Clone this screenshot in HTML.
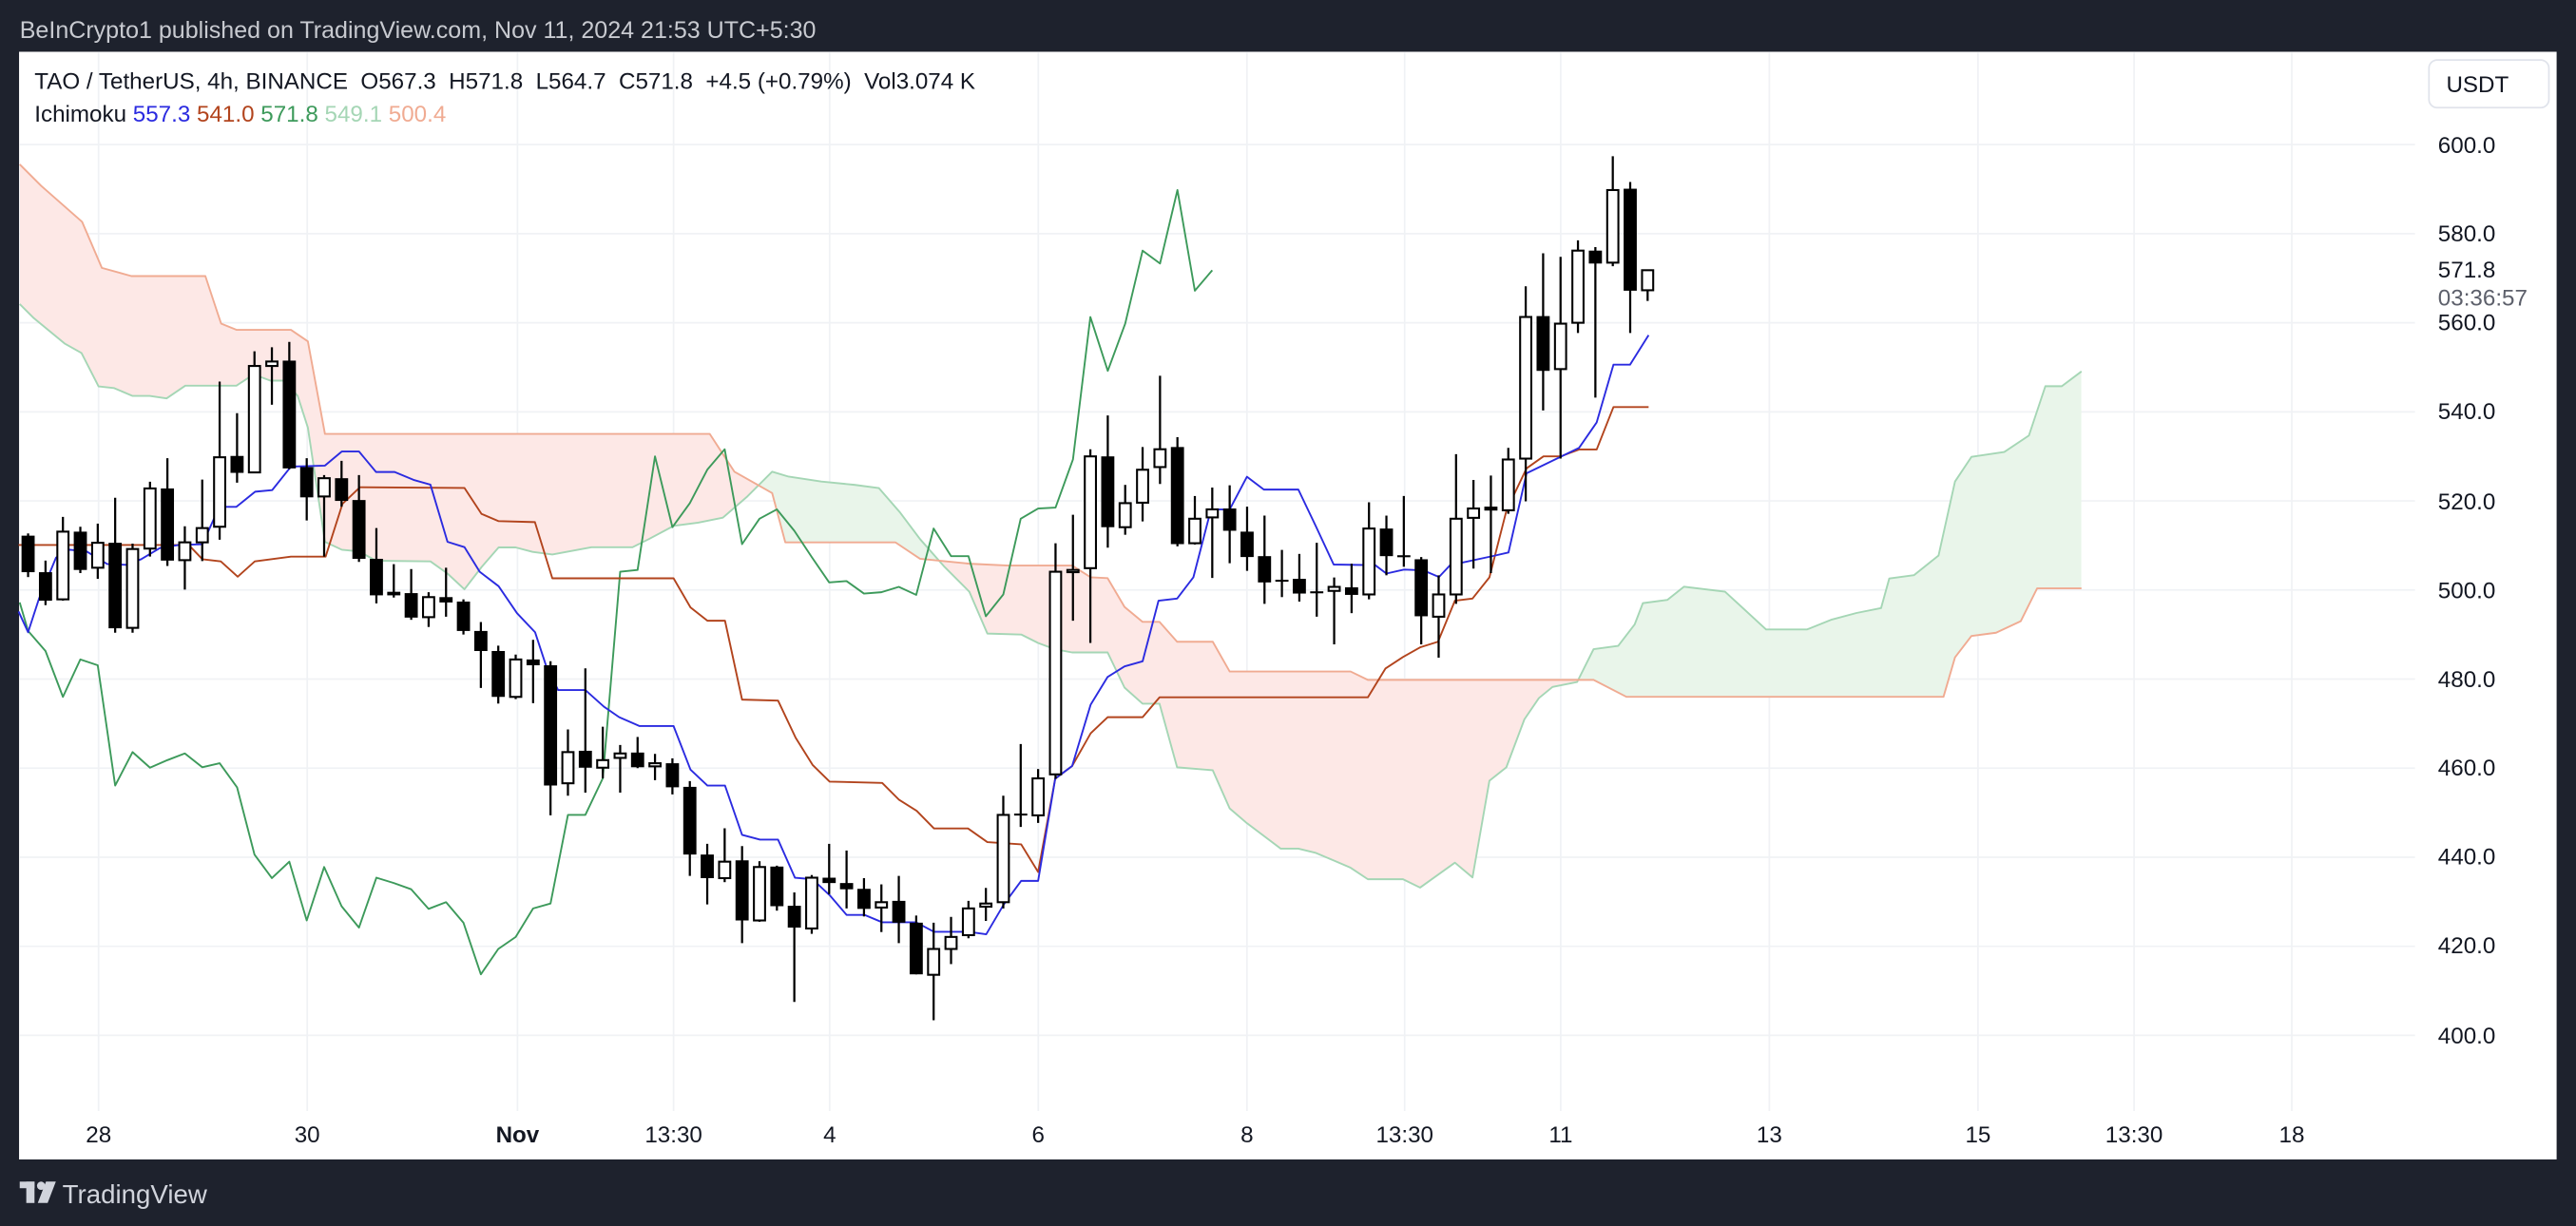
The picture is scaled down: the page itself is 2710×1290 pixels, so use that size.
<!DOCTYPE html>
<html><head><meta charset="utf-8"><style>
html,body{margin:0;padding:0;background:#1e222d;}
svg{display:block;}
text{font-family:"Liberation Sans",Arial,sans-serif;}
</style></head><body>
<svg id="s" width="2710" height="1290" viewBox="0 0 1568 746" preserveAspectRatio="none" xmlns="http://www.w3.org/2000/svg">
<rect x="0" y="0" width="1568" height="746" fill="#1e222d"/>
<text x="12" y="23" font-size="14.5" fill="#c8cad0">BeInCrypto1 published on TradingView.com, Nov 11, 2024 21:53 UTC+5:30</text>
<rect x="11.6" y="31.5" width="1544.6" height="674" fill="#ffffff"/>
<g id="grid" stroke="#f0f2f5" stroke-width="1"></g>
<g id="cloud"></g>
<g id="lines" fill="none" stroke-linejoin="round"></g>
<g id="candles"></g>
<text x="21" y="54" font-size="14" fill="#131722" xml:space="preserve">TAO / TetherUS, 4h, BINANCE  O567.3  H571.8  L564.7  C571.8  +4.5 (+0.79%)  Vol3.074 K</text>
<text x="21" y="74" font-size="14" fill="#131722">Ichimoku <tspan fill="#2b2be0">557.3</tspan> <tspan fill="#b2441d">541.0</tspan> <tspan fill="#3d9a5b">571.8</tspan> <tspan fill="#a5d6b5">549.1</tspan> <tspan fill="#f0ab92">500.4</tspan></text>
<rect x="1478.5" y="36.5" width="73" height="29" rx="5" fill="#fff" stroke="#e0e3eb"/>
<text x="1489" y="56" font-size="14" fill="#131722">USDT</text>
<g font-size="14" fill="#131722">
<text x="1484" y="93">600.0</text>
<text x="1484" y="147">580.0</text>
<text x="1484" y="169">571.8</text>
<text x="1484" y="186" fill="#5d606b">03:36:57</text>
<text x="1484" y="201">560.0</text>
<text x="1484" y="255">540.0</text>
<text x="1484" y="310">520.0</text>
<text x="1484" y="364">500.0</text>
<text x="1484" y="418">480.0</text>
<text x="1484" y="472">460.0</text>
<text x="1484" y="526">440.0</text>
<text x="1484" y="580">420.0</text>
<text x="1484" y="635">400.0</text>
</g>
<g font-size="14" fill="#131722" text-anchor="middle">
<text x="60" y="695">28</text>
<text x="187" y="695">30</text>
<text x="315" y="695" font-weight="bold">Nov</text>
<text x="410" y="695">13:30</text>
<text x="505" y="695">4</text>
<text x="632" y="695">6</text>
<text x="759" y="695">8</text>
<text x="855" y="695">13:30</text>
<text x="950" y="695">11</text>
<text x="1077" y="695">13</text>
<text x="1204" y="695">15</text>
<text x="1299" y="695">13:30</text>
<text x="1395" y="695">18</text>
</g>
<g fill="#d1d4dc">
<rect x="12" y="719" width="9" height="4"/>
<rect x="16" y="719" width="5" height="13"/>
<circle cx="25" cy="721.5" r="2.5"/>
<polygon points="28,719 34,719 29,732 23,732"/>
</g>
<text x="38" y="732" font-size="16" fill="#d1d4dc">TradingView</text>
</svg>
<script>
(function(){
var NS="http://www.w3.org/2000/svg";
function Y(p){return 88+(600-p)*2.71;}
function X(i){return 17.1+10.6*i;}
function el(t,a,parent){var e=document.createElementNS(NS,t);for(var k in a)e.setAttribute(k,a[k]);parent.appendChild(e);return e;}
var grid=document.getElementById('grid');
for(var p=400;p<=600;p+=20){el('line',{x1:12,x2:1470,y1:Y(p),y2:Y(p)},grid);}
[60,187,315,410,505,632,759,855,950,1077,1204,1299,1395].forEach(function(x){el('line',{x1:x,x2:x,y1:32,y2:676},grid);});
var C=[[512.2,512.7,502.9,504],[504,506.6,496.6,497.6],[497.9,516.4,497.6,513.1],[513.1,514.2,503.8,504.5],[505,514.9,502.5,510.6],[510.6,520.7,490.4,491.4],[491.5,510.4,490.4,509.2],[509.3,524.3,507.5,522.8],[522.8,529.6,505.4,506.6],[506.7,514.3,500.1,510.7],[510.7,524.8,506.5,513.9],[514.2,546.8,511.3,529.8],[530.1,539.7,524.1,526.3],[526.4,553.6,526.4,550.3],[550.3,554.5,541.6,551.3],[551.5,555.7,527.1,527.3],[527.6,529.6,515.6,520.8],[521,525.8,507.5,525.1],[525.1,529,518.7,520],[520.2,525.8,506.3,507],[507,513.9,497,498.8],[499.6,505.8,498.3,498.8],[499.3,504.7,493.3,493.8],[493.9,499.5,491.7,498.4],[498.4,505,494,497.2],[497.4,497.9,490,490.8],[490.8,492.8,478,486.3],[486.3,487.5,474.5,476],[476,485.5,475.5,484.4],[484.4,488.8,474.6,483.1],[483.1,484,449.4,456.1],[456.6,468.7,453.8,463.6],[463.9,482.4,454.5,460.1],[460.1,469.3,457.7,461.8],[462.3,465.2,454.5,463.3],[463.5,467,460,460.2],[460.4,463.2,457.3,461.1],[461.1,462.2,454.1,455.7],[455.8,457.1,435.8,440.6],[440.6,443,429.4,435.3],[435.3,446.5,434.4,439],[439.3,442.5,420.7,425.8],[425.8,439.1,425.5,437.8],[437.9,438.1,428,429],[429.1,432.1,407.5,424.2],[424,436,422.8,435.4],[435.4,443,431.7,434.2],[434.2,441.5,428.5,432.8],[432.9,435.3,426.7,428.4],[428.7,433.9,423.2,429.9],[430.2,435.8,420.7,425.3],[425.3,426.9,413.7,413.7],[413.6,425.3,403.4,419.4],[419.4,426.6,416,422.1],[422.5,430.2,421.8,428.5],[428.9,433.1,425.7,429.6],[429.9,453.8,428.5,449.5],[449.8,465.4,446.8,449.5],[449.4,459.8,447.7,457.7],[458.6,510.5,457.6,504.1],[504,516.9,493.1,504.5],[504.9,531.6,488.1,530],[530,539.2,509.5,514.1],[514.1,523.6,512.4,519.5],[519.6,532.1,515.4,527],[527.6,548.1,523.8,531.6],[532.1,534.3,509.8,510.3],[510.5,521.1,510.2,516],[516.3,523,502.7,518.1],[518.3,523.5,506,513.3],[513.1,518.7,504.3,507.4],[507.6,516.7,496.9,501.7],[502.3,509,498.4,502],[502.5,508.1,497.4,499.2],[499.7,510.6,494,499.5],[499.8,502.8,487.8,500.7],[500.6,505.9,494.8,498.9],[499,519.7,497.9,513.8],[513.8,516.7,503.3,507.6],[507.8,521.1,505.2,507.6],[506.9,507.4,487.8,494.1],[494,503.3,484.8,499],[499,530.5,496.9,516],[516.2,524.7,504.8,518.3],[518.5,525.7,503.8,518.5],[517.9,531.9,517.1,529.3],[529.5,568.2,519.9,561.3],[561.5,575.6,540.3,549.2],[549.6,574.8,529.5,559.8],[560,578.5,557.7,576.2],[576.2,577,543.2,573.3],[573.5,597.4,572.7,589.8],[590.1,591.6,557.7,567.2],[567.3,571.8,564.9,571.8]];
function pts(a){return a.map(function(q){return q[0]+','+q[1];}).join(' ');}
var A=[[12,185],[20.6,193.6],[39.3,209],[49.6,214.8],[60,235.1],[69.3,236.1],[80.7,240.9],[91.1,240.9],[101.4,242.4],[112.8,234.7],[143.9,234.7],[154.3,227.8],[164.6,231.6],[172.9,231.6],[181.2,240.9],[187.4,260.2],[197.8,329.7],[208.1,334.5],[218.5,335.5],[228.9,341.2],[262,341.6],[272.4,349],[282.7,358.6],[293.1,345.1],[303.5,333.1],[313.9,333.1],[324.2,335.8],[336.2,337.4],[360,333],[385,333],[395,328],[410,320],[425,318],[440,315],[455,302],[470,287],[480,290],[500,293],[520,295],[535,297],[548,312],[560,328],[575,345],[590,360],[601,385.5],[621.6,386.1],[632,391.3],[642.3,395.1],[652.6,397],[674.2,397],[684.5,418.4],[695.5,428.2],[705.8,428.2],[716.5,466.9],[738.2,468.7],[748.5,491.9],[759,500.9],[779.6,516.4],[790.3,516.4],[801,519],[811.8,523.6],[822.1,528],[832.6,535],[854,535],[864.4,540.1],[885.6,524.9],[896.3,533.9],[906.6,475.1],[916.9,466.9],[927.9,437.7],[936.7,424.8],[945,418],[960,415],[970,395],[985,393],[995,380],[1000,367],[1015,365],[1025,357],[1050,360],[1075,383],[1100,383],[1115,377],[1130,373],[1145,370],[1150,352],[1165,350],[1180,338],[1190,293],[1200,278],[1220,275],[1235,265],[1245,235],[1255,235],[1267,226]];
var B=[[12,100],[25,113],[50,135],[62,163],[80,168],[125,168],[132.5,190.7],[134.6,196.9],[143.9,200.7],[177.1,200.7],[187.4,207.7],[197.8,264],[432,264],[447,287],[470,300],[478,330],[545,330],[560,340],[590,343],[613.4,344.1],[652.6,344.1],[663.9,351.3],[674.2,351.8],[684.5,369.3],[695.5,378.4],[705.8,378.4],[716.5,390.5],[738.2,390.5],[748.5,408.6],[822.1,408.6],[832.6,413.7],[970,413.7],[990,424],[1183,424],[1190,400],[1200,387],[1215,385],[1230,378],[1240,358],[1267,358]];
var cl=document.getElementById('cloud');
var defs=el('defs',{},cl);
var cpB=el('clipPath',{id:'belowB'},defs);el('polygon',{points:pts(B)+' 1267,700 12,700'},cpB);
var cpA=el('clipPath',{id:'belowA'},defs);el('polygon',{points:pts(A)+' 1267,700 12,700'},cpA);
el('polygon',{points:pts(A)+' 1267,0 12,0','fill':'#fde8e6','clip-path':'url(#belowB)'},cl);
el('polygon',{points:pts(B)+' 1267,0 12,0','fill':'#e9f5ea','clip-path':'url(#belowA)'},cl);
var L=document.getElementById('lines');
el('polyline',{points:pts(A),stroke:'#a5d6b5','stroke-width':1.1},L);
el('polyline',{points:pts(B),stroke:'#f0ab92','stroke-width':1.1},L);
var ch=[[12,Y(C[24][3])]];for(var i=0;i<=68;i++)ch.push([X(i),Y(C[i+25][3])]);
el('polyline',{points:pts(ch),stroke:'#3d9a5b','stroke-width':1.1},L);
var K=[[11.3,331.6],[114.9,331.6],[123.2,340.3],[134.4,341.6],[144.7,350.9],[155.1,341.6],[177.1,338.7],[198.2,338.7],[208.5,306.5],[219.1,296.5],[282.7,296.9],[293.1,312.7],[303.5,317.1],[325.6,317.7],[336.2,351.9],[410,351.9],[420.3,369.6],[430.6,377.7],[441.3,377.7],[451.7,425.7],[473.6,426.3],[484.3,448.9],[494.6,465.4],[505,475.6],[537,476.4],[547.3,486.7],[558,493.4],[568.5,504.1],[589.2,504.1],[601,512.4],[621.6,513.8],[631.9,530.6],[642.3,473.8],[652.6,466.1],[663.9,446.2],[674.2,436.4],[695.5,436.4],[705.8,424.3],[832.6,424.3],[843.3,406.8],[854,399.8],[864.4,393.9],[875.3,390.5],[885.6,365.5],[896.3,364.2],[906.6,351.3],[917,310.5],[929.2,285],[939.5,277.7],[950,277.7],[961.2,273.5],[971.9,273.5],[982.1,247.7],[1003.5,247.7]];
el('polyline',{points:pts(K),stroke:'#b2441d','stroke-width':1.1},L);
var T=[[11.3,372.1],[17.1,384.7],[23.7,364.4],[34.1,339.3],[42.4,334.5],[52.7,335.5],[65.2,343.2],[76.6,343.7],[85.9,340.3],[97.3,333.5],[108.7,331.6],[123.2,331.2],[133.5,308.4],[143.9,308.4],[155.3,299.2],[165.7,298.2],[177.1,283.9],[197.8,283.3],[208.1,274.7],[218.5,274.7],[228.9,287.2],[240.2,287.2],[251.7,292],[262,294.9],[272.4,329.7],[282.7,332.9],[292,347.9],[303.5,356.7],[314.7,373.1],[325.7,384.7],[332.5,405.4],[339.7,419.9],[356.3,419.9],[367.6,430],[376.9,436.4],[389.3,441.8],[410,441.8],[420.3,468.3],[430.6,478],[441.3,478],[451.7,508],[462.6,510.9],[473.6,510.9],[483.9,534.1],[494.6,535],[505,544.7],[515.3,556.7],[526.2,556.7],[537,561.2],[557.6,561.2],[568.5,567],[589.6,567],[600.3,568.5],[610.9,550.5],[621.6,536],[631.9,536],[642.3,473.8],[652.6,466.1],[663.9,428.7],[674.2,411.9],[684.5,405.5],[695.5,402.4],[705.2,365.5],[716.5,364.2],[726.4,351.3],[737.1,310],[748.5,310],[759,290.1],[769.3,297.9],[790.3,297.9],[801,320.3],[811.8,343.5],[837.1,343.9],[843.9,349],[854.6,346.6],[866.2,347],[875.9,351.1],[882.7,343.9],[908.9,338.3],[918.2,336.2],[929.2,288],[961.2,272.5],[971.9,257],[982.1,221.9],[992.2,221.9],[1003.5,203.9]];
el('polyline',{points:pts(T),stroke:'#2b2be0','stroke-width':1.1},L);
var G=document.getElementById('candles');
C.forEach(function(c,i){var x=X(i),o=c[0],h=c[1],l=c[2],cc=c[3];var up=cc>=o;
el('line',{x1:x,x2:x,y1:Y(h),y2:Y(l),stroke:'#000','stroke-width':1.3},G);
var t=Y(Math.max(o,cc)),b=Y(Math.min(o,cc));if(b-t<1.2){b=t+1.2;}
if(up)el('rect',{x:x-3.4,y:t,width:6.8,height:b-t,fill:'#fff',stroke:'#000','stroke-width':1.2},G);
else el('rect',{x:x-4,y:t,width:8,height:b-t,fill:'#000'},G);});
})();
</script>
</body></html>
